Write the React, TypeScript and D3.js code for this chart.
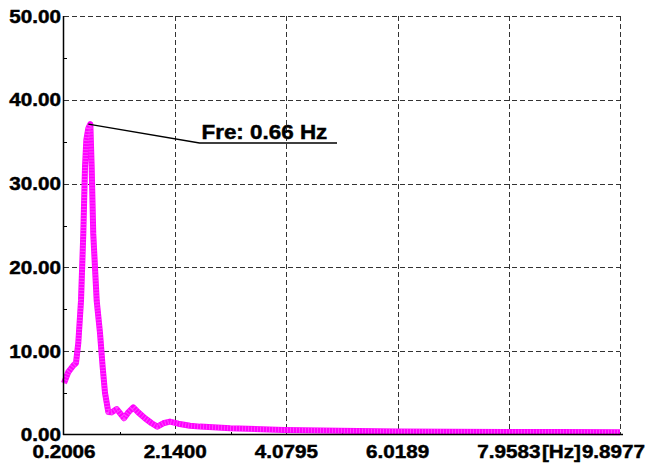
import React from "react";
import * as d3 from "d3";

// Spectrum samples: frequency [Hz] and amplitude
const freqs = [
  0.2006, 0.275, 0.363, 0.41, 0.45, 0.497, 0.537, 0.567, 0.59, 0.625, 0.66,
  0.683, 0.711, 0.771, 0.828, 0.875, 0.916, 0.973, 1.032, 1.12, 1.177, 1.247,
  1.322, 1.409, 1.496, 1.613, 1.73, 1.828, 1.932, 2.049, 2.194, 2.398, 2.573,
  3.1, 4.04, 5.0, 6.0, 6.93, 7.91, 8.85, 9.8977,
];
const amplitudes = [
  6.2, 7.5, 8.3, 8.6, 11.0, 16, 24, 32, 35.2, 36.6, 37.1,
  32, 24, 16, 12.2, 8.1, 5.0, 2.75, 2.7, 3.1, 2.6, 2.0,
  2.7, 3.3, 2.7, 2.0, 1.4, 1.0, 1.4, 1.6, 1.35, 1.1, 1.0,
  0.8, 0.6, 0.5, 0.42, 0.4, 0.37, 0.35, 0.33,
];

const xTicks = [0.2006, 2.14, 4.0795, 6.0189, 7.9583, 9.8977];
const xTickLabels = ["0.2006", "2.1400", "4.0795", "6.0189", "7.9583", "9.8977"];
const yTicks = [0, 10, 20, 30, 40, 50];
const yTickLabels = ["0.00", "10.00", "20.00", "30.00", "40.00", "50.00"];
const unitLabel = "[Hz]";
const peakFreq = 0.66;
const peakAmp = 37.1;
const peakLabel = "Fre: 0.66 Hz";

const W = 650;
const H = 464;
const left = 64;
const right = 620;
const top = 16;
const bottom = 435;

const font = "'Liberation Sans', Arial, Helvetica, sans-serif";
const tickSize = 17.5;
const tickStretch = 1.18;

// Wide bold label: horizontally stretched text anchored at (x, y)
function WideText(props: {
  x: number;
  y: number;
  size: number;
  stretch: number;
  anchor?: "start" | "middle" | "end";
  children: React.ReactNode;
}) {
  const { x, y, size, stretch, anchor = "start", children } = props;
  return (
    <text
      transform={`translate(${x},${y}) scale(${stretch},1)`}
      textAnchor={anchor}
      fontSize={size}
      fontWeight="bold"
      fill="#000"
      stroke="#000"
      strokeWidth={0.45}
    >
      {children}
    </text>
  );
}

export default function App() {
  const x = d3.scaleLinear().domain([xTicks[0], xTicks[xTicks.length - 1]]).range([left, right]);
  const y = d3.scaleLinear().domain([0, 50]).range([bottom, top]);

  const data = freqs.map((f, i) => [f, amplitudes[i]] as [number, number]);
  const line = d3
    .line<[number, number]>()
    .x((d) => x(d[0]))
    .y((d) => y(d[1]))
    .curve(d3.curveLinear);
  const path = line(data) || "";

  const xMinor = xTicks.slice(1).map((t, i) => (t + xTicks[i]) / 2);
  const yMinor = yTicks.slice(1).map((t) => t - 5);

  const px = x(peakFreq);
  const py = y(peakAmp);
  const elbowX = 199.5;
  const elbowY = 143;
  const underlineEnd = 337;

  const snap = (v: number) => Math.round(v) + 0.5;

  return (
    <svg
      width={W}
      height={H}
      style={{ position: "absolute", left: 0, top: 0, background: "#fff" }}
      fontFamily={font}
    >
      <rect x={0} y={0} width={W} height={H} fill="#fff" />
      {/* dashed grid */}
      {yTicks.slice(1).map((t) => (
        <line
          key={"hg" + t}
          x1={left}
          x2={right}
          y1={snap(y(t))}
          y2={snap(y(t))}
          stroke="#333"
          strokeWidth={1}
          strokeDasharray="5 3"
        />
      ))}
      {xTicks.slice(1).map((t) => (
        <line
          key={"vg" + t}
          x1={snap(x(t))}
          x2={snap(x(t))}
          y1={top}
          y2={bottom}
          stroke="#333"
          strokeWidth={1}
          strokeDasharray="5 3"
        />
      ))}
      {/* minor ticks */}
      {yMinor.map((t) => (
        <line key={"ym" + t} x1={left} x2={left + 3} y1={snap(y(t))} y2={snap(y(t))} stroke="#000" />
      ))}
      {xMinor.map((t) => (
        <line key={"xm" + t} x1={snap(x(t))} x2={snap(x(t))} y1={bottom} y2={bottom - 3} stroke="#000" />
      ))}
      {/* spectrum curve */}
      <path d={path} fill="none" stroke="#ff00ff" strokeWidth={6} strokeLinejoin="round" strokeLinecap="butt" />
      <path
        d={path}
        fill="none"
        stroke="#ff7dff"
        strokeWidth={5}
        strokeDasharray="1 2"
        strokeOpacity={0.55}
        strokeLinejoin="round"
      />
      {/* axes */}
      <line x1={left - 0.5} x2={left - 0.5} y1={top} y2={bottom} stroke="#000" strokeWidth={1.5} />
      <line x1={left - 1} x2={right + 3} y1={bottom - 0.5} y2={bottom - 0.5} stroke="#000" strokeWidth={1.5} />
      {/* y labels */}
      {yTicks.map((t, i) => (
        <WideText
          key={"yl" + t}
          x={left - 3}
          y={y(t) + (t === 0 ? 5.5 : 6.5)}
          size={tickSize}
          stretch={tickStretch}
          anchor="end"
        >
          {yTickLabels[i]}
        </WideText>
      ))}
      {/* x labels */}
      {xTicks.map((t, i) => {
        const last = i === xTicks.length - 1;
        return (
          <WideText
            key={"xl" + t}
            x={last ? 645 : x(t)}
            y={458}
            size={tickSize}
            stretch={tickStretch}
            anchor={last ? "end" : "middle"}
          >
            {xTickLabels[i]}
          </WideText>
        );
      })}
      <WideText x={542} y={458} size={tickSize} stretch={tickStretch}>
        {unitLabel}
      </WideText>
      {/* peak annotation */}
      <polyline
        points={`${px - 2},${py} ${elbowX},${elbowY} ${underlineEnd},${elbowY}`}
        fill="none"
        stroke="#000"
        strokeWidth={1.3}
      />
      <WideText x={201.5} y={139} size={19.5} stretch={1.15}>
        {peakLabel}
      </WideText>
    </svg>
  );
}
